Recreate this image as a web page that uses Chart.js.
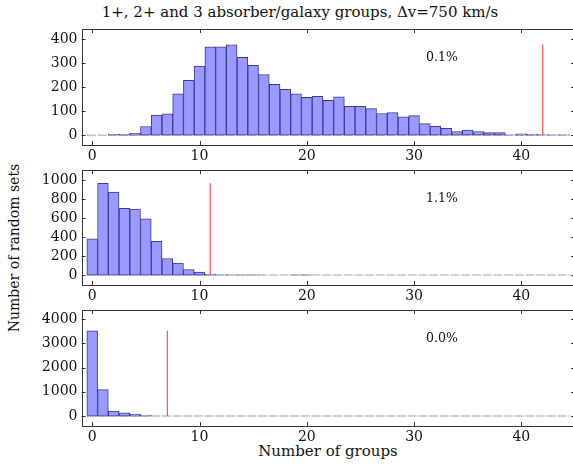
<!DOCTYPE html>
<html>
<head>
<meta charset="utf-8">
<script src="https://cdn.jsdelivr.net/npm/chart.js@4.4.1/dist/chart.umd.min.js"></script>
<style>
    html, body { margin: 0; padding: 0; overflow: hidden; background: #fff; width: 573px; height: 466px; }
    canvas { position: absolute; left: 0; }
    .lbl { position: absolute; font-family: 'DejaVu Serif', serif; color: #111; white-space: nowrap; }
    #title { top: 3px; left: 300px; transform: translateX(-50%); font-size: 15px; }
    #xlabel { top: 442px; left: 328px; transform: translateX(-50%); font-size: 15px; }
    #ylabel { top: 248px; left: 14px; transform: translate(-50%, -50%) rotate(-90deg); font-size: 14px; }
</style>
</head>
<body>
<div class="lbl" id="title">1+, 2+ and 3 absorber/galaxy groups, Δv=750 km/s</div>
<div class="lbl" id="ylabel">Number of random sets</div>
<div class="lbl" id="xlabel">Number of groups</div>
<canvas id="panel1" width="575" height="165" style="top:0px"></canvas>
<canvas id="panel2" width="575" height="140" style="top:165px"></canvas>
<canvas id="panel3" width="575" height="141" style="top:305px"></canvas>
<script>
// histogram counts per number of groups (bins 0..44)
const counts1 = [0, 0, 3, 3, 8, 36, 83, 88, 172, 228, 287, 367, 367, 375, 323, 290, 252, 211, 190, 172,
    157, 161, 145, 159, 120, 120, 110, 90, 94, 76, 81, 48, 37, 28, 15, 21, 15, 11, 11, 1, 5, 3, 2, 1, 1];
const counts2 = [382, 965, 872, 701, 694, 590, 354, 174, 125, 59, 31, 10, 4, 4, 4, 4, 0, 0, 0, 3,
    3, 0, 0, 0, 0, 0, 0, 0, 0, 0, 0, 0, 0, 0, 0, 0, 0, 0, 0, 0, 0, 0, 0, 0, 0];
const counts3 = [3508, 1092, 205, 137, 82, 41, 0, 0, 0, 0, 0, 0, 0, 0, 0, 0, 0, 0, 0, 0,
    0, 0, 0, 0, 0, 0, 0, 0, 0, 0, 0, 0, 0, 0, 0, 0, 0, 0, 0, 0, 0, 0, 0, 0, 0];

// observed number of groups (red line) and its height
const observed = [42, 11, 7];
const observedTop = [377, 965, 3510];
const percents = ['0.1%', '1.1%', '0.0%'];

const xTicks = [0, 10, 20, 30, 40];
const yTicks1 = [0, 100, 200, 300, 400];
const yTicks2 = [0, 200, 400, 600, 800, 1000];
const yTicks3 = [0, 1000, 2000, 3000, 4000];

const FONT = "'DejaVu Serif', serif";

const framePlugin = {
    id: 'frame',
    afterDraw(chart, args, opts) {
        const ctx = chart.ctx;
        const a = chart.chartArea;
        const xs = chart.scales.x, ys = chart.scales.y;
        ctx.save();
        ctx.strokeStyle = '#333';
        ctx.lineWidth = 1;
        ctx.beginPath();
        xTicks.forEach(v => {
            const px = Math.round(xs.getPixelForValue(v)) + 0.5;
            ctx.moveTo(px, a.bottom); ctx.lineTo(px, a.bottom - 4);
            ctx.moveTo(px, a.top); ctx.lineTo(px, a.top + 4);
        });
        opts.yTicks.forEach(v => {
            const py = Math.round(ys.getPixelForValue(v)) + 0.5;
            ctx.moveTo(a.left, py); ctx.lineTo(a.left + 4, py);
            ctx.moveTo(a.right, py); ctx.lineTo(a.right - 4, py);
        });
        ctx.stroke();
        ctx.strokeRect(Math.round(a.left) + 0.5, Math.round(a.top) + 0.5,
            Math.round(a.right - a.left), Math.round(a.bottom - a.top));
        ctx.fillStyle = '#111';
        ctx.font = '12.5px ' + FONT;
        ctx.textAlign = 'center';
        ctx.textBaseline = 'middle';
        ctx.fillText(opts.text, xs.getPixelForValue(32.6), a.top + (a.bottom - a.top) * 0.25);
        ctx.restore();
    }
};

function makePanel(id, counts, obs, obsTop, pct, yMin, yMax, yTicks, padTop) {
    const bars = counts.map((c, i) => ({ x: i, y: c }));
    new Chart(document.getElementById(id), {
        type: 'bar',
        data: {
            datasets: [
                {
                    type: 'line', order: 3,
                    data: [{ x: -0.5, y: 0 }, { x: 44.5, y: 0 }],
                    borderColor: 'rgba(120,120,120,0.45)', borderWidth: 1.5, borderDash: [9, 1.7],
                    pointRadius: 0
                },
                {
                    order: 2,
                    data: bars,
                    backgroundColor: '#9999ff',
                    borderColor: '#3b3b8f',
                    borderWidth: 1,
                    borderSkipped: false,
                    barPercentage: 1,
                    categoryPercentage: 1
                },
                {
                    type: 'line', order: 1,
                    data: [{ x: obs, y: 0 }, { x: obs, y: obsTop }],
                    borderColor: '#ff3030', borderWidth: 1,
                    pointRadius: 0
                }
            ]
        },
        options: {
            responsive: false, animation: false, devicePixelRatio: 1,
            layout: { padding: { top: padTop, left: 0, right: 0, bottom: 0 } },
            plugins: { legend: { display: false }, tooltip: { enabled: false }, frame: { yTicks: yTicks, text: pct } },
            scales: {
                x: {
                    type: 'linear', min: -1, max: 45, offset: false,
                    grid: { display: false, drawTicks: false }, border: { display: false },
                    afterBuildTicks: s => { s.ticks = xTicks.map(v => ({ value: v })); },
                    afterFit: s => { s.height = 20; s.paddingLeft = 0; s.paddingRight = 0; },
                    ticks: { color: '#111', padding: 3, font: { family: FONT, size: 14 }, maxRotation: 0,
                        callback: v => String(v) }
                },
                y: {
                    min: yMin, max: yMax,
                    grid: { display: false, drawTicks: false }, border: { display: false },
                    afterBuildTicks: s => { s.ticks = yTicks.map(v => ({ value: v })); },
                    afterFit: s => { s.width = 81.5; s.paddingTop = 0; s.paddingBottom = 0; },
                    ticks: { color: '#111', padding: 4, font: { family: FONT, size: 14 },
                        callback: v => String(v) }
                }
            }
        },
        plugins: [framePlugin]
    });
}

makePanel('panel1', counts1, observed[0], observedTop[0], percents[0], -41, 441, yTicks1, 29);
makePanel('panel2', counts2, observed[1], observedTop[1], percents[1], -104, 1104, yTicks2, 5);
makePanel('panel3', counts3, observed[2], observedTop[2], percents[2], -410, 4370, yTicks3, 5);
</script>
</body>
</html>
